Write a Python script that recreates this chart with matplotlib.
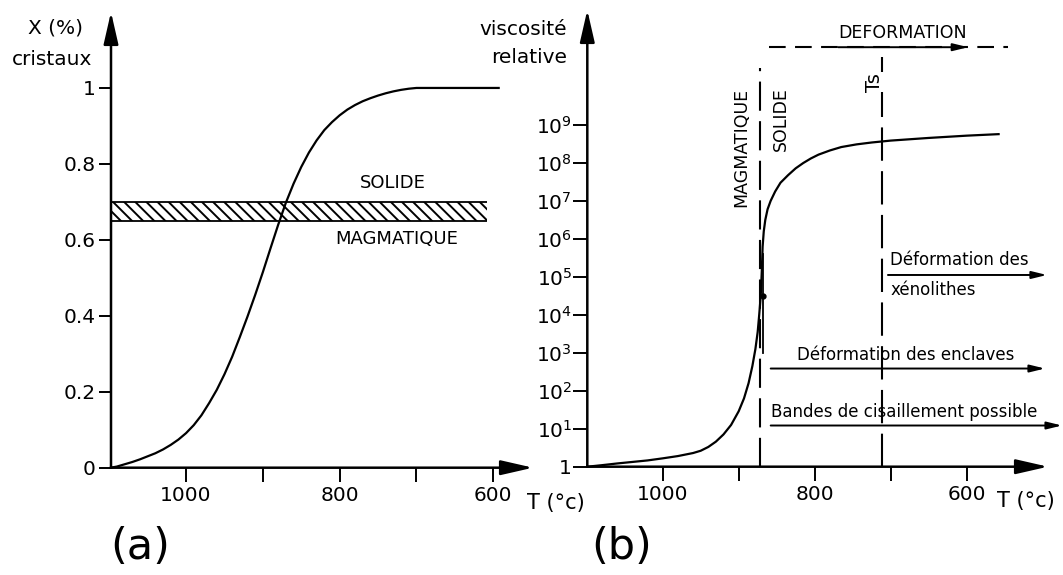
import numpy as np
import matplotlib
matplotlib.use('Agg')
import matplotlib.pyplot as plt
from matplotlib.ticker import NullLocator, FixedLocator

W, H = 1063, 575

# (a) fraction de cristaux en fonction de T
A_T = [1098, 1090, 1080, 1070, 1060, 1050, 1040, 1030, 1020, 1010, 1000,
       990, 980, 970, 960, 950, 940, 930, 920, 910, 900, 890, 880, 870,
       860, 850, 840, 830, 820, 810, 800, 790, 780, 770, 760, 750, 740,
       730, 720, 710, 700, 650, 593]
A_X = [0, 0.003, 0.009, 0.015, 0.022, 0.030, 0.038, 0.048, 0.060, 0.074,
       0.091, 0.112, 0.138, 0.170, 0.205, 0.246, 0.292, 0.344, 0.398,
       0.455, 0.515, 0.578, 0.640, 0.698, 0.748, 0.792, 0.830, 0.862,
       0.889, 0.910, 0.928, 0.943, 0.955, 0.965, 0.973, 0.980, 0.986,
       0.991, 0.995, 0.998, 1.0, 1.0, 1.0]
BAND_X = (0.65, 0.70)        # transition magmatique / solide
BAND_T = (1098, 608)

# (b) viscosite relative (exposants de 10)
B_T = [1099, 1080, 1060, 1040, 1020, 1000, 980, 960, 950, 940, 930, 920,
       910, 900, 893, 887, 882, 878, 875, 873, 871, 869.5, 868.5, 867,
       865, 862, 858, 852, 845, 835, 825, 815, 805, 795, 780, 765, 745,
       725, 700, 650, 600, 558]
B_EXP = [0, 0.04, 0.085, 0.125, 0.165, 0.22, 0.28, 0.36, 0.42, 0.52,
         0.66, 0.85, 1.10, 1.46, 1.80, 2.20, 2.65, 3.10, 3.55, 4.0, 4.5,
         5.2, 5.8, 6.2, 6.5, 6.78, 7.0, 7.25, 7.48, 7.68, 7.86, 8.0, 8.12,
         8.22, 8.33, 8.42, 8.49, 8.54, 8.59, 8.66, 8.72, 8.76]
TRACE_T, TRACE_EXP = 868, (3.0, 5.6)   # trait vertical du trace original
DOT_T, DOT_EXP = 868, 4.5
T_CRIT = 872     # limite MAGMATIQUE / SOLIDE
T_S = 712        # Ts

T_TICKS = [1000, 900, 800, 700, 600]
T_LABELS = ['1000', '', '800', '', '600']
X_TICKS = [0, 0.2, 0.4, 0.6, 0.8, 1]
X_LABELS = ['0', '0.2', '0.4', '0.6', '0.8', '1']
V_EXP = list(range(10))
V_LABELS = ['1'] + [f'$10^{{{e}}}$' for e in V_EXP[1:]]

plt.rcParams['font.family'] = 'DejaVu Sans'
plt.rcParams['hatch.linewidth'] = 1.4

fig = plt.figure(figsize=(W / 100, H / 100), dpi=100)
fig.patch.set_facecolor('white')


def box(l, r, t, b):
    return [l / W, 1 - b / H, (r - l) / W, (b - t) / H]


def axis_arrows(ax):
    for s in ax.spines.values():
        s.set_visible(False)
    kw = dict(arrowstyle='-|>,head_length=1.4,head_width=0.32', lw=1.8,
              color='k', mutation_scale=14, shrinkA=0, shrinkB=0)
    ax.annotate('', xy=(0, 1), xytext=(0, 0), xycoords='axes fraction',
                arrowprops=kw, annotation_clip=False)
    ax.annotate('', xy=(1, 0), xytext=(0, 0), xycoords='axes fraction',
                arrowprops=kw, annotation_clip=False)


def small_arrow(ax, t0, t1, y):
    ax.annotate('', xy=(t1, y), xytext=(t0, y),
                arrowprops=dict(arrowstyle='-|>,head_length=0.9,head_width=0.22',
                                lw=1.4, color='k', mutation_scale=10,
                                shrinkA=0, shrinkB=0),
                annotation_clip=False)


ax_a = fig.add_axes(box(111, 533, 12, 467.7))
ax_b = fig.add_axes(box(587.3, 1048, 10, 466.7))

# ── (a) ──────────────────────────────────────────────────────────────────────
ax_a.set_xlim(1097.7, 548.3)
ax_a.set_ylim(0, 1.2)
axis_arrows(ax_a)
ax_a.plot(A_T, A_X, color='k', lw=1.6, clip_on=False,
          solid_joinstyle='round')
ax_a.fill_between(BAND_T, BAND_X[0], BAND_X[1], facecolor='none',
                  edgecolor='k', hatch='\\\\\\', linewidth=0)
ax_a.hlines(BAND_X, BAND_T[0], BAND_T[1], color='k', lw=1.3)
ax_a.text(731, 0.749, 'SOLIDE', ha='center', va='center', fontsize=13)
ax_a.text(726, 0.602, 'MAGMATIQUE', ha='center', va='center', fontsize=13)
ax_a.set_xticks(T_TICKS)
ax_a.set_xticklabels(T_LABELS)
ax_a.set_yticks(X_TICKS)
ax_a.set_yticklabels(X_LABELS)
ax_a.tick_params(axis='x', direction='out', length=10, width=1.4,
                 labelsize=14.5, pad=3.5)
ax_a.tick_params(axis='y', direction='out', length=9, width=1.4,
                 labelsize=14.5, pad=2)

# ── (b) ──────────────────────────────────────────────────────────────────────
ax_b.set_yscale('log')
ax_b.set_xlim(1099.2, 493)
ax_b.set_ylim(1, 10 ** 12.03)
axis_arrows(ax_b)
ax_b.plot(B_T, [10 ** e for e in B_EXP], color='k', lw=1.6, clip_on=False,
          solid_joinstyle='round')
ax_b.plot([TRACE_T, TRACE_T], [10 ** e for e in TRACE_EXP], color='k', lw=1.3)
ax_b.plot([DOT_T], [10 ** DOT_EXP], 'o', color='k', ms=3.5)

ax_b.plot([T_CRIT, T_CRIT], [1, 10 ** 10.5], color='k', lw=1.5,
          ls=(0, (14, 5)), clip_on=False)
ax_b.plot([T_S, T_S], [1, 10 ** 10.79], color='k', lw=1.5,
          ls=(0, (16, 5)), clip_on=False)
ax_b.plot([860, 545.6], [10 ** 11.05] * 2, color='k', lw=1.5,
          ls=(0, (8, 4.5)), clip_on=False)
small_arrow(ax_b, 769, 598, 10 ** 11.05)
ax_b.text(684.5, 10 ** 11.42, 'DEFORMATION', ha='center', va='center',
          fontsize=12.5)
ax_b.text(720.7, 10 ** 10.13, 'Ts', ha='center', va='center', fontsize=14,
          rotation=90, bbox=dict(facecolor='white', edgecolor='none', pad=0.5))
ax_b.text(896, 10 ** 8.41, 'MAGMATIQUE', ha='center', va='center',
          fontsize=12.5, rotation=90)
ax_b.text(845, 10 ** 9.16, 'SOLIDE', ha='center', va='center',
          fontsize=12.5, rotation=90)

small_arrow(ax_b, 703.6, 494.4, 10 ** 5.05)
ax_b.text(701, 10 ** 5.44, 'Déformation des', ha='left', va='center',
          fontsize=12)
ax_b.text(699.6, 10 ** 4.65, 'xénolithes', ha='left', va='center',
          fontsize=12)
small_arrow(ax_b, 857.9, 497, 10 ** 2.586)
ax_b.text(680, 10 ** 2.94, 'Déformation des enclaves', ha='center',
          va='center', fontsize=12)
small_arrow(ax_b, 857.9, 474.6, 10 ** 1.085)
ax_b.text(857.5, 10 ** 1.44, 'Bandes de cisaillement possible', ha='left',
          va='center', fontsize=12)

ax_b.set_xticks(T_TICKS)
ax_b.set_xticklabels(T_LABELS)
ax_b.yaxis.set_major_locator(FixedLocator([10 ** e for e in V_EXP]))
ax_b.yaxis.set_minor_locator(NullLocator())
ax_b.set_yticklabels(V_LABELS)
ax_b.tick_params(axis='x', direction='out', length=10, width=1.4,
                 labelsize=14.5, pad=3.5)
ax_b.tick_params(axis='y', direction='out', length=10, width=1.4,
                 labelsize=14.5, pad=1)

# ── axis titles & panel letters ──────────────────────────────────────────────
def ftext(px, py, s, **kw):
    fig.text(px / W, 1 - py / H, s, **kw)

ftext(56, 34, 'X (%)', ha='center', va='baseline', fontsize=14.5)
ftext(52, 65, 'cristaux', ha='center', va='baseline', fontsize=14.5)
ftext(567, 35, 'viscosité', ha='right', va='baseline', fontsize=14.5)
ftext(567, 63, 'relative', ha='right', va='baseline', fontsize=14.5)
ftext(556, 503.5, 'T (°c)', ha='center', va='center', fontsize=15)
ftext(1026, 501, 'T (°c)', ha='center', va='center', fontsize=15)
ftext(140, 547, '(a)', ha='center', va='center', fontsize=31)
ftext(622, 547, '(b)', ha='center', va='center', fontsize=31)

fig.savefig('out.png', dpi=100, facecolor='white')
